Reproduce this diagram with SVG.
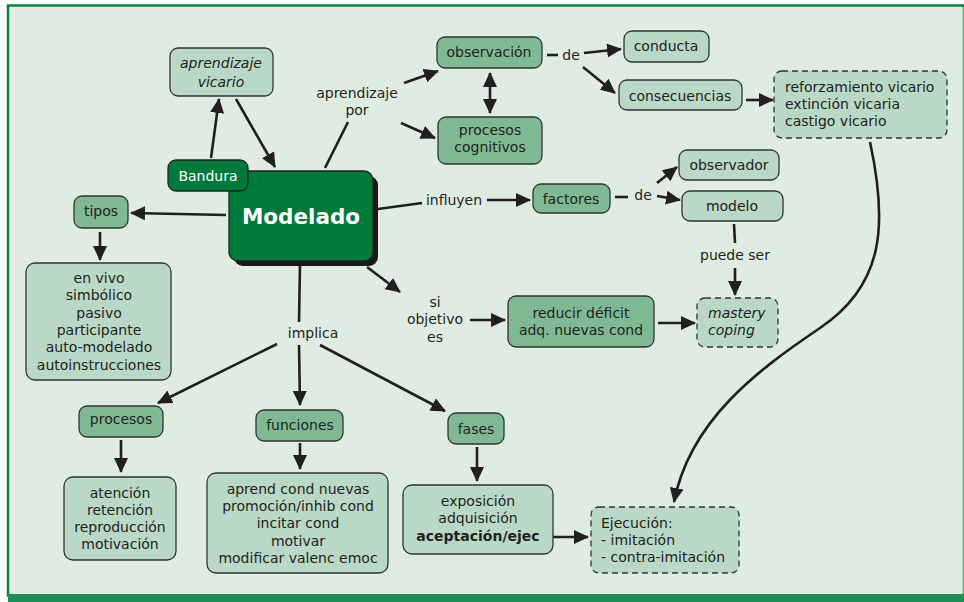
<svg xmlns="http://www.w3.org/2000/svg" width="964" height="602" viewBox="0 0 964 602">
<style>
text{font-family:"DejaVu Sans","Verdana",sans-serif;font-size:14px;fill:#231f20;text-anchor:middle;}
.mid{fill:#7fb993;stroke:#333;stroke-width:1.3;}
.lt{fill:#b9d8c5;stroke:#333;stroke-width:1.3;}
.dash{fill:#b9d8c5;stroke:#333;stroke-width:1.3;stroke-dasharray:6 4;}
.dk{fill:#007a3c;stroke:#222;stroke-width:1.3;}
.l{text-anchor:start;}
.it{font-style:italic;}
.c path,.c line{stroke:#231f20;stroke-width:2.6;fill:none;}
.a{marker-end:url(#ah);}
</style>
<defs>
<marker id="ah" viewBox="0 0 15 14" refX="14" refY="7" markerWidth="15" markerHeight="14" markerUnits="userSpaceOnUse" orient="auto-start-reverse"><path d="M0,0 L15,7 L0,14 z" fill="#231f20"/></marker>
</defs>
<rect x="0" y="0" width="964" height="602" fill="#ffffff"/>
<rect x="8" y="5.5" width="956" height="590" fill="#dfece2" stroke="#0b8042" stroke-width="2.5"/>
<rect x="8" y="594" width="956" height="8" fill="#1f8e55"/>
<line x1="963" y1="7" x2="963" y2="593" stroke="#c4d6ca" stroke-width="1"/>

<g id="connectors" class="c">
<line class="a" x1="211" y1="158" x2="219" y2="99"/>
<line class="a" x1="236" y1="99" x2="275" y2="167"/>
<line x1="325" y1="168" x2="348" y2="122"/>
<line class="a" x1="404" y1="83" x2="438" y2="71"/>
<line class="a" x1="401" y1="123" x2="435" y2="138"/>
<line x1="490" y1="73" x2="490" y2="113" style="marker-start:url(#ah);marker-end:url(#ah)"/>
<line x1="547" y1="55" x2="558" y2="55"/>
<line class="a" x1="584" y1="53" x2="621" y2="49"/>
<line class="a" x1="583" y1="67" x2="615" y2="93"/>
<line class="a" x1="746" y1="100" x2="773" y2="100"/>
<path class="a" d="M870,142 C888,225 884,285 820,328 C758,370 690,420 674,502"/>
<line x1="378" y1="209" x2="422" y2="203"/>
<line class="a" x1="487" y1="200" x2="530" y2="200"/>
<line x1="615" y1="197" x2="628" y2="197"/>
<line class="a" x1="657" y1="183" x2="677" y2="167"/>
<line class="a" x1="657" y1="196" x2="680" y2="200"/>
<line x1="734" y1="224" x2="735" y2="243"/>
<line class="a" x1="735" y1="268" x2="735" y2="295"/>
<line class="a" x1="658" y1="323" x2="695" y2="323"/>
<line class="a" x1="367" y1="267" x2="400" y2="292"/>
<line class="a" x1="470" y1="320" x2="505" y2="320"/>
<line class="a" x1="226" y1="215" x2="131" y2="213"/>
<line class="a" x1="100" y1="232" x2="100" y2="260"/>
<line x1="300" y1="264" x2="299" y2="322"/>
<line class="a" x1="277" y1="344" x2="158" y2="403"/>
<line class="a" x1="299" y1="345" x2="300" y2="405"/>
<line class="a" x1="320" y1="345" x2="445" y2="411"/>
<line class="a" x1="121" y1="440" x2="121" y2="472"/>
<line class="a" x1="300" y1="443" x2="300" y2="469"/>
<line class="a" x1="477" y1="447" x2="477" y2="481"/>
<line class="a" x1="552" y1="537" x2="588" y2="537"/>
</g>

<g id="modelado">
<rect x="234" y="176" width="144" height="90" rx="9" fill="#1a1a1a"/>
<rect class="dk" x="229" y="171" width="144" height="90" rx="9"/>
<text x="301" y="224" style="font-size:21.5px;font-weight:bold;fill:#fff">Modelado</text>
</g>
<g id="bandura">
<rect class="dk" x="168" y="160" width="80" height="31" rx="8"/>
<text x="208" y="181" style="fill:#fff">Bandura</text>
</g>
<g id="aprendizaje-vicario">
<rect class="lt" x="170" y="48" width="103" height="48" rx="8"/>
<text class="it" x="221" y="68">aprendizaje</text>
<text class="it" x="221" y="87">vicario</text>
</g>
<g id="lbl-aprendizaje-por"><text x="357" y="98">aprendizaje</text><text x="357" y="115">por</text></g>
<g id="observacion">
<rect class="mid" x="437" y="37" width="105" height="31" rx="8"/>
<text x="489" y="57">observación</text>
</g>
<g id="procesos-cognitivos">
<rect class="mid" x="438" y="117" width="104" height="47" rx="8"/>
<text x="490" y="135">procesos</text>
<text x="490" y="152">cognitivos</text>
</g>
<g id="lbl-de1"><text x="571" y="60">de</text></g>
<g id="conducta">
<rect class="lt" x="624" y="31" width="85" height="31" rx="8"/>
<text x="666" y="51">conducta</text>
</g>
<g id="consecuencias">
<rect class="lt" x="619" y="80" width="123" height="30" rx="8"/>
<text x="680" y="101">consecuencias</text>
</g>
<g id="reforzamiento">
<rect class="dash" x="774" y="71" width="173" height="67" rx="8"/>
<text class="l" x="785" y="92">reforzamiento vicario</text>
<text class="l" x="785" y="109">extinción vicaria</text>
<text class="l" x="785" y="126">castigo vicario</text>
</g>
<g id="lbl-influyen"><text x="454" y="205">influyen</text></g>
<g id="factores">
<rect class="mid" x="533" y="184" width="77" height="29" rx="8"/>
<text x="571" y="204">factores</text>
</g>
<g id="lbl-de2"><text x="643" y="200">de</text></g>
<g id="observador">
<rect class="lt" x="679" y="150" width="100" height="30" rx="8"/>
<text x="729" y="170">observador</text>
</g>
<g id="modelo">
<rect class="lt" x="682" y="191" width="101" height="30" rx="8"/>
<text x="732" y="211">modelo</text>
</g>
<g id="lbl-puede-ser"><text x="735" y="260">puede ser</text></g>
<g id="mastery">
<rect class="dash" x="697" y="298" width="81" height="49" rx="8"/>
<text class="l it" x="708" y="318">mastery</text>
<text class="l it" x="708" y="335">coping</text>
</g>
<g id="lbl-si-objetivo"><text x="435" y="307">si</text><text x="435" y="324">objetivo</text><text x="435" y="342">es</text></g>
<g id="reducir">
<rect class="mid" x="508" y="296" width="146" height="51" rx="8"/>
<text x="581" y="318">reducir déficit</text>
<text x="581" y="335">adq. nuevas cond</text>
</g>
<g id="tipos">
<rect class="mid" x="74" y="196" width="54" height="32" rx="8"/>
<text x="101" y="216">tipos</text>
</g>
<g id="tipos-list">
<rect class="lt" x="26" y="263" width="145" height="117" rx="9"/>
<text x="99" y="283">en vivo</text>
<text x="99" y="300">simbólico</text>
<text x="99" y="318">pasivo</text>
<text x="99" y="335">participante</text>
<text x="99" y="352">auto-modelado</text>
<text x="99" y="370">autoinstrucciones</text>
</g>
<g id="lbl-implica"><text x="313" y="338">implica</text></g>
<g id="procesos">
<rect class="mid" x="79" y="406" width="84" height="31" rx="8"/>
<text x="121" y="424">procesos</text>
</g>
<g id="procesos-list">
<rect class="lt" x="64" y="477" width="112" height="83" rx="9"/>
<text x="120" y="498">atención</text>
<text x="120" y="515">retención</text>
<text x="120" y="532">reproducción</text>
<text x="120" y="549">motivación</text>
</g>
<g id="funciones">
<rect class="mid" x="256" y="410" width="87" height="31" rx="8"/>
<text x="300" y="430">funciones</text>
</g>
<g id="funciones-list">
<rect class="lt" x="207" y="473" width="181" height="100" rx="9"/>
<text x="298" y="494">aprend cond nuevas</text>
<text x="298" y="511">promoción/inhib cond</text>
<text x="298" y="528">incitar cond</text>
<text x="298" y="546">motivar</text>
<text x="298" y="563">modificar valenc emoc</text>
</g>
<g id="fases">
<rect class="mid" x="448" y="413" width="56" height="31" rx="8"/>
<text x="476" y="434">fases</text>
</g>
<g id="fases-list">
<rect class="lt" x="403" y="485" width="150" height="69" rx="9"/>
<text x="478" y="506">exposición</text>
<text x="478" y="523">adquisición</text>
<text x="478" y="541" style="font-weight:bold">aceptación/ejec</text>
</g>
<g id="ejecucion">
<rect class="dash" x="591" y="507" width="148" height="66" rx="8"/>
<text class="l" x="601" y="528">Ejecución:</text>
<text class="l" x="601" y="545">- imitación</text>
<text class="l" x="601" y="562">- contra-imitación</text>
</g>
</svg>
